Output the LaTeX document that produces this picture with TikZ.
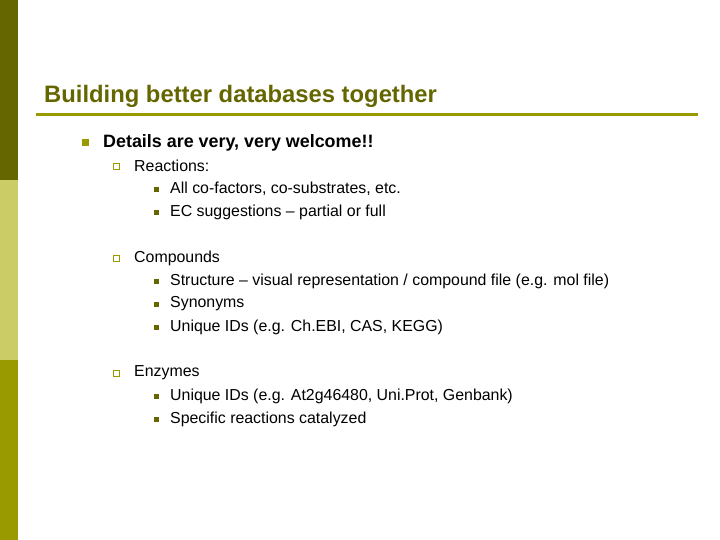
\documentclass[tikz,border=0pt]{standalone}
\usepackage{fontspec}
\setmainfont{Liberation Sans}
\definecolor{dk}{HTML}{666600}
\definecolor{lt}{HTML}{CCCC66}
\definecolor{ol}{HTML}{999900}
\begin{document}
\begin{tikzpicture}[x=1pt,y=-1pt,
  t/.style={anchor=west,inner sep=0pt,font=\fontsize{15.9}{18}\selectfont},
  b/.style={anchor=west,inner sep=0pt,font=\fontsize{17.9}{20}\selectfont\bfseries}]
\useasboundingbox (0,0) rectangle (720,540);
\fill[white] (0,0) rectangle (720,540);
\fill[dk] (0,0) rectangle (18,180);
\fill[lt] (0,180) rectangle (18,360);
\fill[ol] (0,360) rectangle (18,540);
\node[anchor=west,inner sep=0pt,text=dk,font=\fontsize{23.8}{26}\selectfont\bfseries] (title) at (44,96) {Building better databases together};
\coordinate (l1) at (36,115); \coordinate (l2) at (698,115);
\draw[ol,line width=3pt] (l1) -- (l2);
\fill[ol] (82,139) rectangle (89,146);
\node[b] (d) at (103,143) {Details are very, very welcome!!};
\foreach \y in {166,258,373}{\draw[ol,line width=1.6pt] (113.5,\y-2.5) rectangle (119.5,\y+3.5);}
\node[t] (r) at (134,166) {Reactions:};
\node[t] (c) at (134,258) {Compounds};
\node[t] (e) at (134,373) {Enzymes};
\foreach \y in {189,212,281,304,327,396,419}{\fill[dk] (154,\y-2) rectangle (159,\y+3);}
\node[t] at (170,189) {All co-factors, co-substrates, etc.};
\node[t] at (170,212) {EC suggestions -- partial or full};
\node[t] at (170,281) {Structure -- visual representation / compound file (e.g. mol file)};
\node[t] at (170,304) {Synonyms};
\node[t] at (170,327) {Unique IDs (e.g. Ch.EBI, CAS, KEGG)};
\node[t] at (170,396) {Unique IDs (e.g. At2g46480, Uni.Prot, Genbank)};
\node[t] at (170,419) {Specific reactions catalyzed};
\end{tikzpicture}
\end{document}
